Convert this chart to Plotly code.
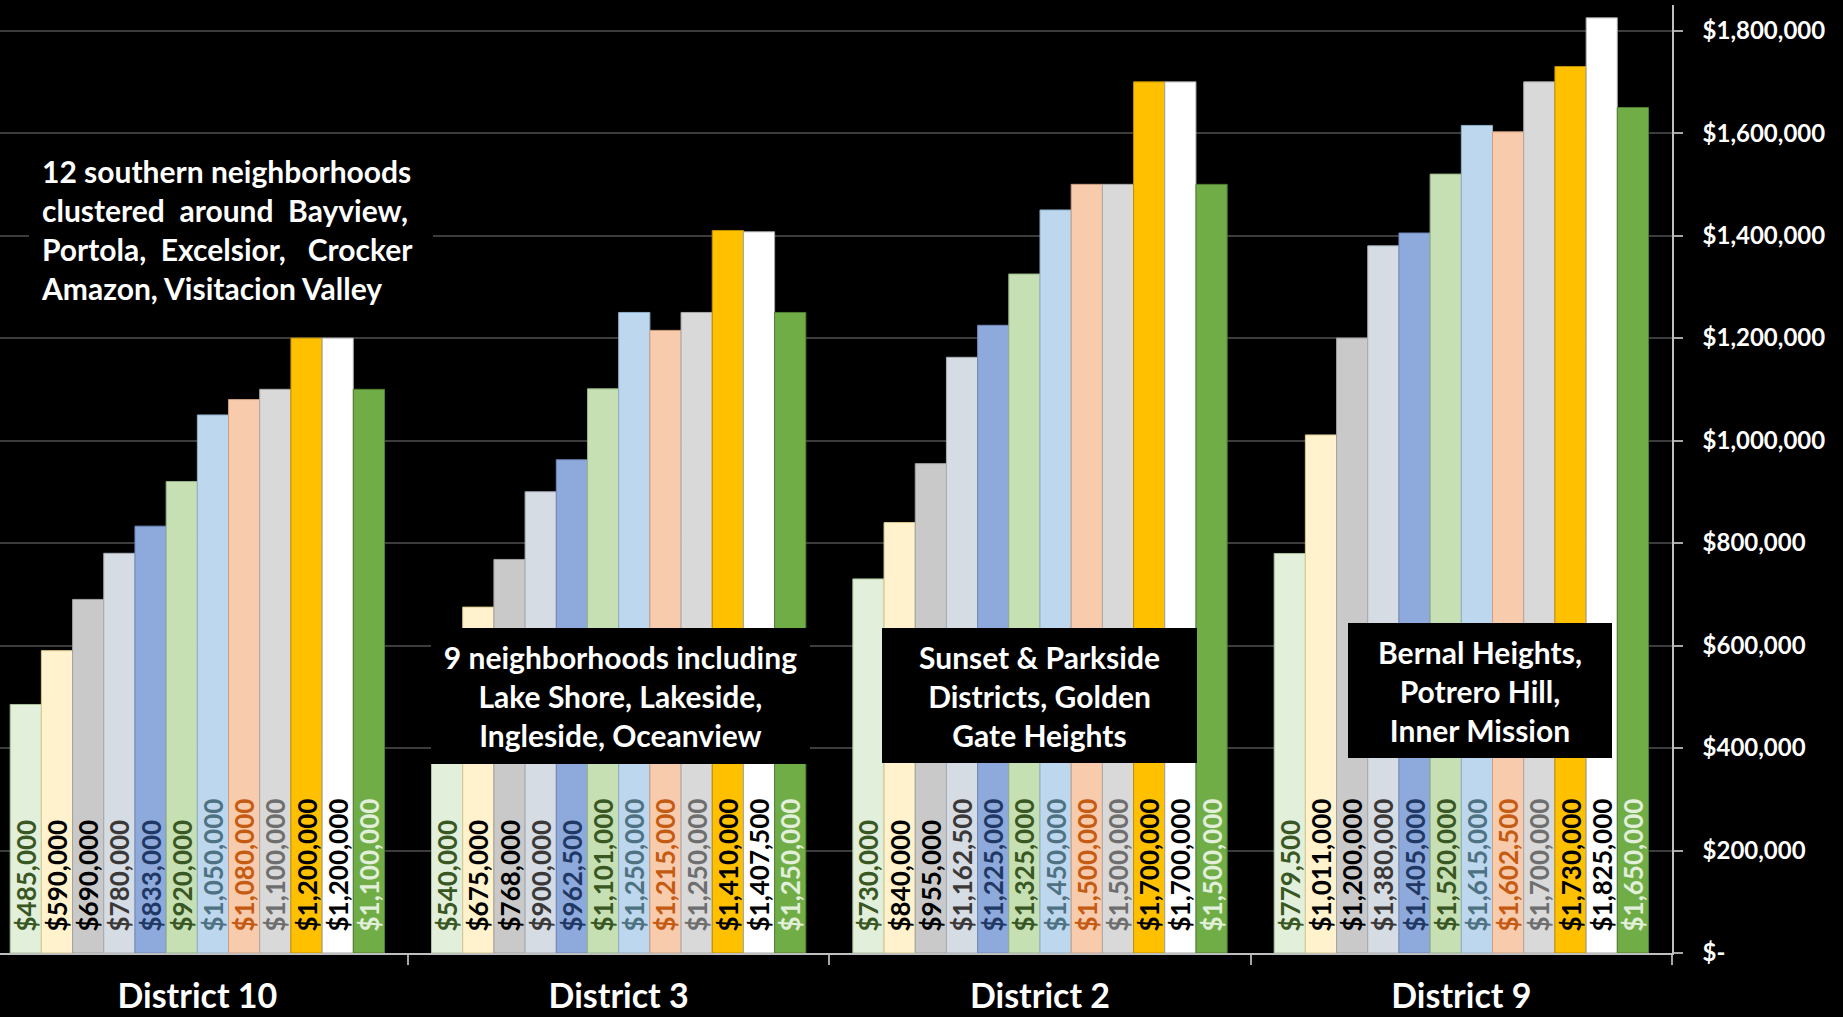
import plotly.graph_objects as go

# ---------------- data ----------------
districts = ["District 10", "District 3", "District 2", "District 9"]

district_10 = [485000, 590000, 690000, 780000, 833000, 920000,
               1050000, 1080000, 1100000, 1200000, 1200000, 1100000]
district_3 = [540000, 675000, 768000, 900000, 962500, 1101000,
              1250000, 1215000, 1250000, 1410000, 1407500, 1250000]
district_2 = [730000, 840000, 955000, 1162500, 1225000, 1325000,
              1450000, 1500000, 1500000, 1700000, 1700000, 1500000]
district_9 = [779500, 1011000, 1200000, 1380000, 1405000, 1520000,
              1615000, 1602500, 1700000, 1730000, 1825000, 1650000]

tick_values = [0, 200000, 400000, 600000, 800000, 1000000,
               1200000, 1400000, 1600000, 1800000]
tick_labels = ["$-", "$200,000", "$400,000", "$600,000", "$800,000", "$1,000,000",
               "$1,200,000", "$1,400,000", "$1,600,000", "$1,800,000"]

notes = [
    "12 southern neighborhoods<br>clustered\u00a0 around\u00a0 Bayview,<br>"
    "Portola,\u00a0 Excelsior,\u00a0\u00a0 Crocker<br>Amazon, Visitacion Valley",
    "9 neighborhoods including<br>Lake Shore, Lakeside,<br>Ingleside, Oceanview",
    "Sunset & Parkside<br>Districts, Golden<br>Gate Heights",
    "Bernal Heights,<br>Potrero Hill,<br>Inner Mission",
]

# ---------------- styles ----------------
bar_colors = ["#E2EFDA", "#FFF2CC", "#C9C9C9", "#D6DCE4", "#8EA9DB", "#C6E0B4",
              "#BDD7EE", "#F8CBAD", "#D9D9D9", "#FFC000", "#FFFFFF", "#70AD47"]
border_colors = ["#A9C49A", "#D9C98F", "#A0A0A0", "#A8AEB8", "#6F88B8", "#97B585",
                 "#8FAFCB", "#CFA080", "#ABABAB", "#BF9000", "#A6A6A6", "#507E32"]
text_colors = ["#385723", "#000000", "#000000", "#3B3838", "#1F3864", "#385723",
               "#4E7282", "#C55A11", "#6E6E6E", "#000000", "#000000", "#E2EFDA"]

all_districts = [district_10, district_3, district_2, district_9]
spacer = '<span style="color:rgba(0,0,0,0)">...</span>'

fig = go.Figure()
for i in range(len(bar_colors)):
    vals = [d[i] for d in all_districts]
    labels = [spacer + f"${v:,.0f}" for v in vals]
    fig.add_trace(go.Bar(
        x=districts, y=vals, name=f"Series {i + 1}",
        marker=dict(color=bar_colors[i], line=dict(color=border_colors[i], width=1)),
        text=labels, textposition="inside", insidetextanchor="start",
        textangle=-90, constraintext="none",
        textfont=dict(family="Lato", size=26, color=text_colors[i], weight="bold"),
        hovertemplate="%{x}: %{y:$,.0f}<extra></extra>",
    ))

# annotation boxes (x in category index units, y in data units)
boxes = [
    dict(x=0.0799, y=1413000, w=380, h=160, pad=12, align="left"),
    dict(x=1.0044, y=501800, w=379, h=136, pad=0, align="center"),
    dict(x=1.999, y=502700, w=315, h=135, pad=0, align="center"),
    dict(x=3.0445, y=512500, w=264, h=135, pad=0, align="center"),
]
for note, b in zip(notes, boxes):
    fig.add_annotation(
        x=b["x"], y=b["y"], xref="x", yref="y", text=note, showarrow=False,
        width=b["w"], height=b["h"], align=b["align"], valign="middle",
        bgcolor="#000000", borderpad=b["pad"], borderwidth=0,
        font=dict(family="Lato", size=30, color="#FFFFFF", weight="bold"),
    )

fig.update_layout(
    width=1843, height=1017,
    barmode="group", bargap=0.1116, bargroupgap=0,
    paper_bgcolor="#000000", plot_bgcolor="#000000",
    margin=dict(l=0, r=171, t=5, b=64, autoexpand=False),
    showlegend=False,
    font=dict(family="Lato", color="#FFFFFF"),
)
fig.update_xaxes(
    type="category", categoryorder="array", categoryarray=districts,
    range=[-0.4684, 3.5], tickson="boundaries", ticks="outside", ticklen=10,
    tickcolor="#A6A6A6", tickwidth=1.5, showline=True, linecolor="#BFBFBF", linewidth=1.5,
    showgrid=False, ticklabelstandoff=12,
    tickfont=dict(family="Lato", size=34, color="#FFFFFF", weight="bold"),
)
fig.update_yaxes(
    side="right", range=[0, 1850000], tickvals=tick_values, ticktext=tick_labels,
    ticks="outside", ticklen=9, tickcolor="#A6A6A6", tickwidth=1.5,
    showline=True, linecolor="#BFBFBF", linewidth=1.5,
    showgrid=True, gridcolor="#3C3C3C", gridwidth=1.5, zeroline=False,
    ticklabelstandoff=15,
    tickfont=dict(family="Lato", size=24, color="#FFFFFF", weight="bold"),
)

fig.write_html("out.html")
